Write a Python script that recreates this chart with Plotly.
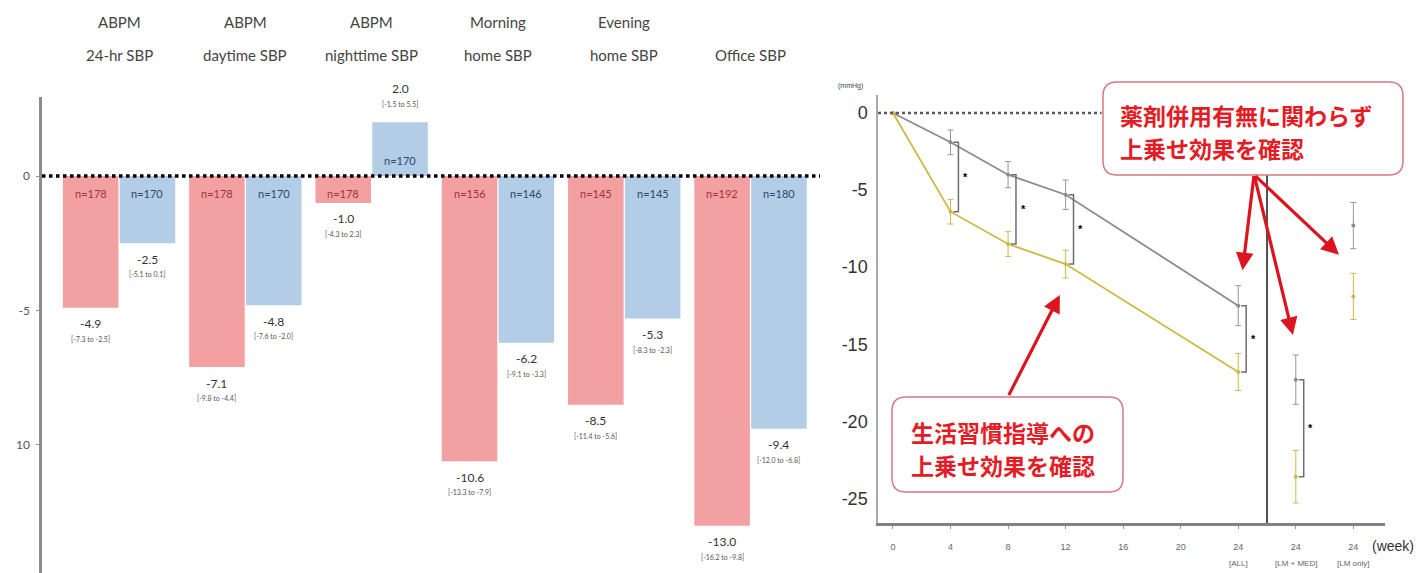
import plotly.graph_objects as go

W, H = 1418, 573

# ---------------- Left chart data ----------------
header_top = ["ABPM", "ABPM", "ABPM", "Morning", "Evening", ""]
header_bottom = ["24-hr SBP", "daytime SBP", "nighttime SBP", "home SBP", "home SBP", "Office SBP"]
red_vals = [-4.9, -7.1, -1.0, -10.6, -8.5, -13.0]
red_ci = ["[-7.3 to -2.5]", "[-9.8 to -4.4]", "[-4.3 to 2.3]", "[-13.3 to -7.9]", "[-11.4 to -5.6]", "[-16.2 to -9.8]"]
red_n = [178, 178, 178, 156, 145, 192]
blue_vals = [-2.5, -4.8, 2.0, -6.2, -5.3, -9.4]
blue_ci = ["[-5.1 to 0.1]", "[-7.6 to -2.0]", "[-1.5 to 5.5]", "[-9.1 to -3.3]", "[-8.3 to -2.3]", "[-12.0 to -6.8]"]
blue_n = [170, 170, 170, 146, 145, 180]
left_tickvals = [0, -5, -10, -15]
left_ticktext = ["0", "-5", "10", "-15"]

# ---------------- Right chart data ----------------
weeks_line = [0, 4, 8, 12, 24]
gray_line = [0, -1.9, -4.0, -5.3, -12.5]
gray_line_err = [0, 0.8, 0.85, 0.95, 1.3]
yellow_line = [0, -6.4, -8.5, -9.8, -16.8]
yellow_line_err = [0, 0.8, 0.8, 0.9, 1.2]
weeks_sub = [28, 32]
gray_sub = [-17.3, -7.3]
gray_sub_err = [1.6, 1.5]
yellow_sub = [-23.6, -11.9]
yellow_sub_err = [1.7, 1.5]
sig_weeks = [4, 8, 12, 24, 28]
right_tickvals = [0, 4, 8, 12, 16, 20, 24, 28, 32]
right_ticktext = ["0", "4", "8", "12", "16", "20", "24", "24", "24"]
sub_labels = ["[ALL]", "[LM + MED]", "[LM only]"]
sub_label_x = [24, 28, 32]
right_yticks = [0, -5, -10, -15, -20, -25]
right_yticktext = ["0", "-5", "-10", "-15", "-20", "-25"]

RED = "rgb(243,160,163)"
BLUE = "rgb(178,205,229)"
GRAY_LINE = "rgb(140,140,140)"
YELLOW = "rgb(205,185,70)"
CALLOUT_RED = "rgb(228,28,38)"

fig = go.Figure()
idx = list(range(len(red_vals)))
bw = 0.44
fig.add_trace(go.Bar(x=idx, y=red_vals, width=bw, offset=-bw - 0.005,
                     marker=dict(color=RED, line=dict(width=0)),
                     xaxis="x", yaxis="y", showlegend=False, hoverinfo="skip"))
fig.add_trace(go.Bar(x=idx, y=blue_vals, width=bw, offset=0.005,
                     marker=dict(color=BLUE, line=dict(width=0)),
                     xaxis="x", yaxis="y", showlegend=False, hoverinfo="skip"))

ann = []
LF = "Lato, Open Sans, sans-serif"
for i in idx:
    for v, ci, n, dx, ncol in [(red_vals[i], red_ci[i], red_n[i], -bw / 2 - 0.005, "rgb(160,50,55)"),
                               (blue_vals[i], blue_ci[i], blue_n[i], bw / 2 + 0.005, "rgb(45,70,115)")]:
        x = i + dx
        sgn = 1 if v >= 0 else -1
        ann.append(dict(x=x, y=0, xref="x", yref="y", text="n=%d" % n, showarrow=False,
                        yshift=(16 if sgn > 0 else -17), font=dict(size=11, color=ncol, family=LF)))
        ann.append(dict(x=x, y=v, xref="x", yref="y", text="%.1f" % v, showarrow=False,
                        yshift=(34 if sgn > 0 else -16), font=dict(size=12, color="#333", family=LF)))
        ann.append(dict(x=x, y=v, xref="x", yref="y", text=ci, showarrow=False,
                        yshift=(18 if sgn > 0 else -31), font=dict(size=7, color="#555", family=LF)))
    if header_top[i]:
        ann.append(dict(x=i, y=1 - 22 / H, xref="x", yref="paper", yanchor="middle", text=header_top[i],
                        showarrow=False, font=dict(size=15, color="#444", family=LF)))
    ann.append(dict(x=i, y=1 - 55 / H, xref="x", yref="paper", yanchor="middle", text=header_bottom[i],
                    showarrow=False, font=dict(size=15, color="#444", family=LF)))

shapes = []
# left zero dotted line
shapes.append(dict(type="line", xref="x", yref="y", x0=-0.61, x1=5.55, y0=0, y1=0,
                   line=dict(color="black", width=3.5, dash="dot"), layer="above"))

# ---------------- Right chart traces ----------------
fig.add_trace(go.Scatter(x=weeks_line, y=gray_line, mode="lines+markers", xaxis="x2", yaxis="y2",
                         line=dict(color=GRAY_LINE, width=1.8), marker=dict(size=4, color=GRAY_LINE),
                         error_y=dict(type="data", array=gray_line_err, color="rgb(150,150,150)", thickness=1, width=3),
                         showlegend=False, hoverinfo="skip"))
fig.add_trace(go.Scatter(x=weeks_line, y=yellow_line, mode="lines+markers", xaxis="x2", yaxis="y2",
                         line=dict(color=YELLOW, width=1.8), marker=dict(size=4, color=YELLOW),
                         error_y=dict(type="data", array=yellow_line_err, color=YELLOW, thickness=1, width=3),
                         showlegend=False, hoverinfo="skip"))
fig.add_trace(go.Scatter(x=weeks_sub, y=gray_sub, mode="markers", xaxis="x2", yaxis="y2",
                         marker=dict(size=4, color=GRAY_LINE),
                         error_y=dict(type="data", array=gray_sub_err, color="rgb(150,150,150)", thickness=1, width=3),
                         showlegend=False, hoverinfo="skip"))
fig.add_trace(go.Scatter(x=weeks_sub, y=yellow_sub, mode="markers", xaxis="x2", yaxis="y2",
                         marker=dict(size=4, color=YELLOW),
                         error_y=dict(type="data", array=yellow_sub_err, color=YELLOW, thickness=1, width=3),
                         showlegend=False, hoverinfo="skip"))

# significance brackets
allw = weeks_line + weeks_sub
allg = gray_line + gray_sub
ally = yellow_line + yellow_sub
for w in sig_weeks:
    k = allw.index(w)
    g, yv = allg[k], ally[k]
    fig.add_trace(go.Scatter(x=[w + 0.2, w + 0.55, w + 0.55, w + 0.2], y=[g, g, yv, yv], mode="lines",
                             xaxis="x2", yaxis="y2", line=dict(color="rgb(110,110,110)", width=1.5),
                             showlegend=False, hoverinfo="skip"))
    ann.append(dict(x=w + 1.05, y=(g + yv) / 2, xref="x2", yref="y2", text="<b>*</b>", showarrow=False,
                    font=dict(size=11, color="black", family="Liberation Sans")))

# right zero dotted line and separator
shapes.append(dict(type="line", xref="x2", yref="y2", x0=-1.04, x1=14.5, y0=0, y1=0,
                   line=dict(color="rgb(90,90,90)", width=2.5, dash="dot"), layer="above"))
shapes.append(dict(type="line", xref="x2", yref="y2", x0=26, x1=26, y0=-26.6, y1=1.17,
                   line=dict(color="rgb(80,80,80)", width=2), layer="above"))


def px(x):
    return x / W


def py(y):
    return 1 - y / H


def rounded(x0, y0, x1, y1, r):
    pts = []
    pts.append("M %f,%f" % (px(x0 + r), py(y0)))
    pts.append("L %f,%f" % (px(x1 - r), py(y0)))
    pts.append("Q %f,%f %f,%f" % (px(x1), py(y0), px(x1), py(y0 + r)))
    pts.append("L %f,%f" % (px(x1), py(y1 - r)))
    pts.append("Q %f,%f %f,%f" % (px(x1), py(y1), px(x1 - r), py(y1)))
    pts.append("L %f,%f" % (px(x0 + r), py(y1)))
    pts.append("Q %f,%f %f,%f" % (px(x0), py(y1), px(x0), py(y1 - r)))
    pts.append("L %f,%f" % (px(x0), py(y0 + r)))
    pts.append("Q %f,%f %f,%f" % (px(x0), py(y0), px(x0 + r), py(y0)))
    pts.append("Z")
    return " ".join(pts)


box_line = dict(color="rgb(215,120,130)", width=1.5)
shapes.append(dict(type="path", xref="paper", yref="paper", path=rounded(1103, 82, 1403, 175, 14),
                   fillcolor="white", line=box_line, layer="above"))
shapes.append(dict(type="path", xref="paper", yref="paper", path=rounded(892, 397, 1123, 492, 14),
                   fillcolor="white", line=box_line, layer="above"))

CJK = "Noto Sans CJK JP"
callout_font = dict(size=23, color=CALLOUT_RED, family=CJK)
ann.append(dict(x=px(1118), y=py(115), xref="paper", yref="paper", xanchor="left", yanchor="middle",
                text="<b>薬剤併用有無に関わらず</b>", showarrow=False, font=callout_font))
ann.append(dict(x=px(1118), y=py(148), xref="paper", yref="paper", xanchor="left", yanchor="middle",
                text="<b>上乗せ効果を確認</b>", showarrow=False, font=callout_font))
ann.append(dict(x=px(1003), y=py(432), xref="paper", yref="paper", xanchor="center", yanchor="middle",
                text="<b>生活習慣指導への</b>", showarrow=False, font=callout_font))
ann.append(dict(x=px(1003), y=py(465), xref="paper", yref="paper", xanchor="center", yanchor="middle",
                text="<b>上乗せ効果を確認</b>", showarrow=False, font=callout_font))

# arrows (tail -> head), in right-chart data coordinates
arrows = [((25.1, -4.0), (24.3, -10.2)),
          ((25.1, -4.0), (27.8, -14.4)),
          ((25.1, -4.0), (31.0, -9.2)),
          ((8.0, -18.4), (11.6, -11.8))]
for (tx, ty), (hx, hy) in arrows:
    ann.append(dict(x=hx, y=hy, ax=tx, ay=ty, xref="x2", yref="y2", axref="x2", ayref="y2",
                    showarrow=True, arrowhead=2, arrowsize=1.1, arrowwidth=3.2,
                    arrowcolor="rgb(220,20,30)", text=""))

# small labels on right chart
ann.append(dict(x=px(851), y=py(86), xref="paper", yref="paper", yanchor="middle", text="(mmHg)",
                showarrow=False, font=dict(size=7, color="#444", family="Liberation Sans")))
ann.append(dict(x=px(1416), y=py(546), xref="paper", yref="paper", xanchor="right", yanchor="middle",
                text="(week)", showarrow=False, font=dict(size=14, color="#333", family="Liberation Sans")))
for lx, lt in zip(sub_label_x, sub_labels):
    ann.append(dict(x=lx, y=py(563), xref="x2", yref="paper", yanchor="middle", text=lt, showarrow=False,
                    font=dict(size=8, color="#666", family="Liberation Sans")))

fig.update_layout(
    width=W, height=H, autosize=False,
    margin=dict(l=0, r=0, t=0, b=0, pad=0),
    paper_bgcolor="white", plot_bgcolor="white",
    barmode="overlay",
    xaxis=dict(domain=[px(42), px(820)], range=[-0.61, 5.55], visible=False, anchor="y",
               automargin=False),
    yaxis=dict(domain=[0, py(97)], range=[-14.76, 2.94], anchor="x", showgrid=False, zeroline=False,
               showline=True, linecolor="rgb(140,140,140)", linewidth=2.5, automargin=False,
               tickvals=left_tickvals, ticktext=left_ticktext, ticks="outside", ticklen=3,
               tickcolor="rgb(140,140,140)", ticklabelstandoff=4,
               tickfont=dict(size=12, color="#555", family=LF)),
    xaxis2=dict(domain=[px(878), px(1385)], range=[-1.04, 34.2], anchor="y2", showgrid=False,
                zeroline=False, showline=True, linecolor="rgb(130,130,130)", linewidth=2.5,
                automargin=False,
                tickvals=right_tickvals, ticktext=right_ticktext, ticks="outside", ticklen=3,
                tickcolor="rgb(150,150,150)", ticklabelstandoff=10,
                tickfont=dict(size=9, color="#666", family="Liberation Sans")),
    yaxis2=dict(domain=[py(523), py(95)], range=[-26.6, 1.17], anchor="x2", showgrid=False,
                zeroline=False, showline=True, linecolor="rgb(170,170,170)", linewidth=1.5,
                automargin=False,
                tickvals=right_yticks, ticktext=right_yticktext, ticks="", ticklabelstandoff=5,
                tickfont=dict(size=18, color="#333", family="Liberation Sans")),
    shapes=shapes,
    annotations=ann,
)

fig.write_html("out.html", config={"displayModeBar": False},
               post_script="document.body.style.margin='0';document.body.style.overflow='hidden';")
